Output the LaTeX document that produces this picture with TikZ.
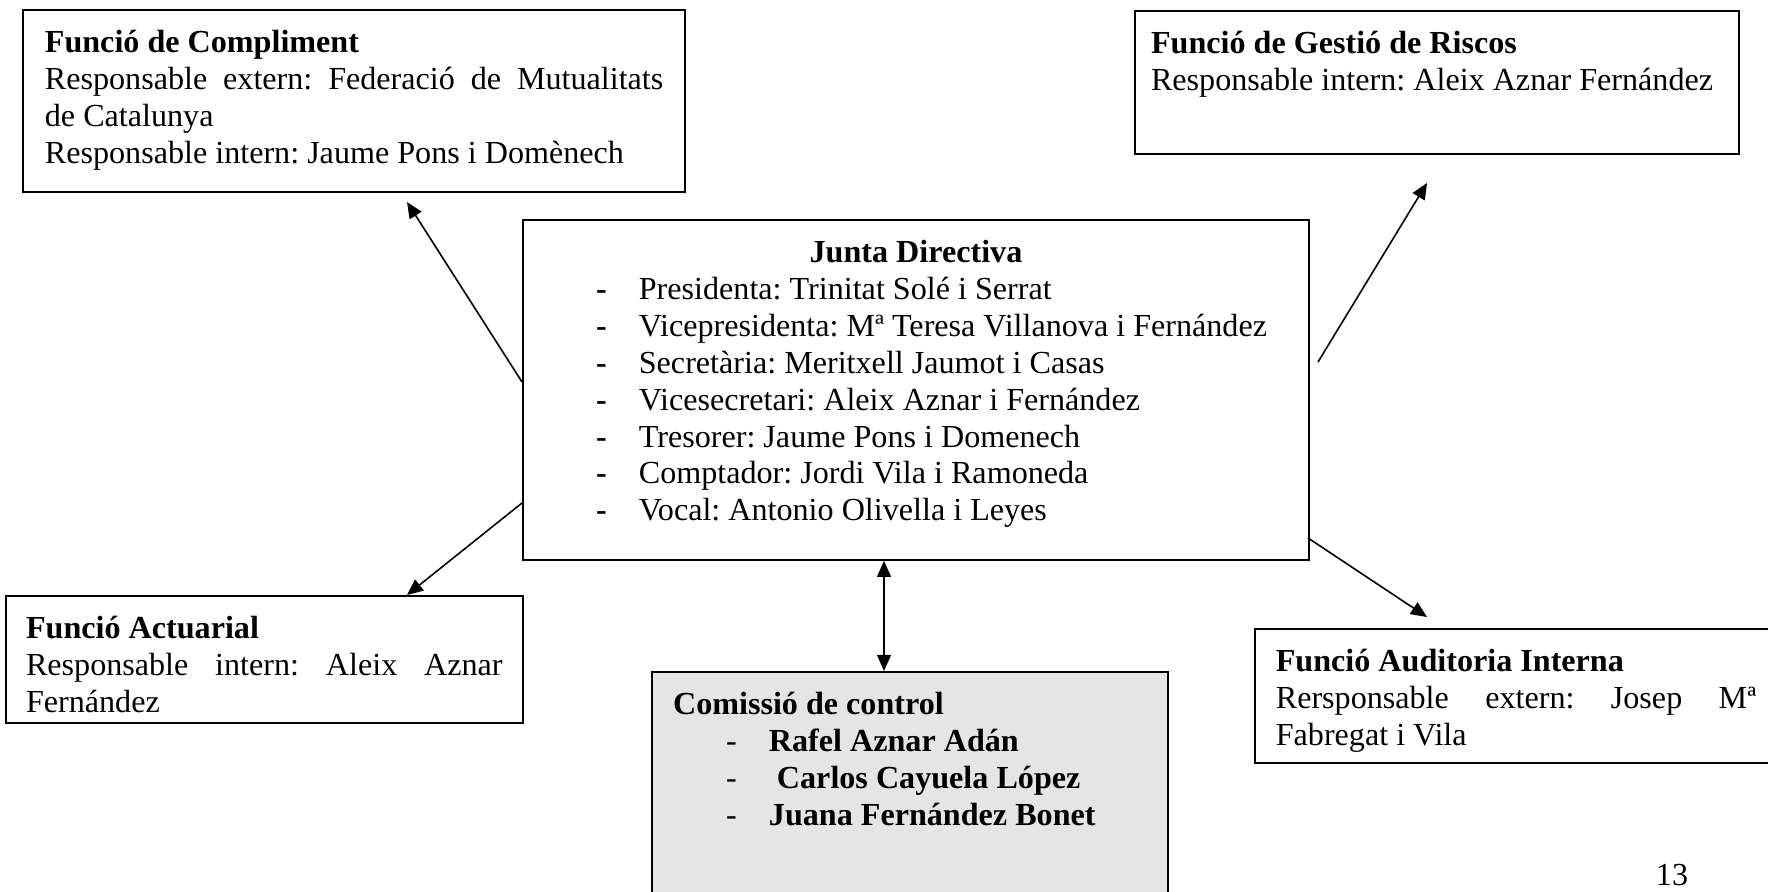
\documentclass[tikz,border=0pt]{standalone}
\usepackage{fontspec}
\setmainfont{Liberation Serif}
\usetikzlibrary{arrows.meta}
\frenchspacing

\newcommand{\boxtext}[3]{\parbox[t][#2][t]{#1}{\vspace*{7.5pt}#3}}
\newcommand{\listline}[2]{\hspace*{19.8pt}\makebox[16pt][l]{#1}#2\par}
\newcommand{\spreadline}[1]{\makebox[\linewidth][s]{#1}\\}

\tikzset{
  orgbox/.style={draw, line width=0.7pt, anchor=north west, inner xsep=7.5pt, inner ysep=0pt, font=\fontsize{12}{13.8}\selectfont},
  arr/.style={-{Triangle[length=6pt,width=5.2pt]}, line width=0.6pt},
  dblarr/.style={{Triangle[length=6pt,width=5.2pt]}-{Triangle[length=6pt,width=5.2pt]}, line width=0.6pt}
}

\begin{document}
\begin{tikzpicture}[x=0.3735pt, y=0.3735pt]
  \useasboundingbox (0,0) rectangle (1768,892);
  \clip (0,0) rectangle (1768,892);

  % boxes
  \node[orgbox, inner xsep=8.2pt] (cmp) at (22,883) {\boxtext{231pt}{68pt}{%
    \textbf{Funció de Compliment}\\
    \spreadline{Responsable extern: Federació de Mutualitats}
    de Catalunya\\
    Responsable intern: Jaume Pons i Domènech}};
  \node[orgbox, inner xsep=6pt] (rsk) at (1134,882) {\boxtext{213.5pt}{53.4pt}{%
    \textbf{Funció de Gestió de Riscos}\\
    Responsable intern: Aleix Aznar Fernández}};
  \node[orgbox] (jd) at (522,673) {\boxtext{278.6pt}{127pt}{%
    \centerline{\textbf{Junta Directiva}}
    \listline{\textbf{-}}{Presidenta: Trinitat Solé i Serrat}
    \listline{\textbf{-}}{Vicepresidenta: Mª Teresa Villanova i Fernández}
    \listline{\textbf{-}}{Secretària: Meritxell Jaumot i Casas}
    \listline{\textbf{-}}{Vicesecretari: Aleix Aznar i Fernández}
    \listline{\textbf{-}}{Tresorer: Jaume Pons i Domenech}
    \listline{\textbf{-}}{Comptador: Jordi Vila i Ramoneda}
    \listline{\textbf{-}}{Vocal: Antonio Olivella i Leyes}}};
  \node[orgbox] (act) at (5,297) {\boxtext{178pt}{47.4pt}{%
    \textbf{Funció Actuarial}\\
    \spreadline{Responsable intern: Aleix Aznar}
    Fernández}};
  \node[orgbox, inner xsep=7.9pt, fill=black!10] (com) at (651,221) {\boxtext{176.8pt}{95pt}{%
    \textbf{Comissió de control}\par
    \listline{-}{\textbf{Rafel Aznar Adán}}
    \listline{-}{\textbf{\ Carlos Cayuela López}}
    \listline{-}{\textbf{Juana Fernández Bonet}}}};
  \node[orgbox, inner xsep=7.8pt] (aud) at (1254,264) {\boxtext{179.4pt}{50pt}{%
    \textbf{Funció Auditoria Interna}\\
    \spreadline{Rersponsable extern: Josep Mª}
    Fabregat i Vila}};
  \node[anchor=base, font=\fontsize{12}{13.8}\selectfont] (pgnum) at (1672,6) {13};

  % arrow ends
  \coordinate (cmpfrom) at (522,510);
  \coordinate (cmptip) at (407,690);
  \coordinate (actfrom) at (522,389);
  \coordinate (acttip) at (407,297);
  \coordinate (rskfrom) at (1318,530);
  \coordinate (rsktip) at (1427,709);
  \coordinate (audfrom) at (1308,354);
  \coordinate (audtip) at (1427,275);

  \begin{scope}[arr]
    \draw (cmpfrom) -- (cmptip);
    \draw (actfrom) -- (acttip);
    \draw (rskfrom) -- (rsktip);
    \draw (audfrom) -- (audtip);
  \end{scope}
  \draw[dblarr] (jd.south -| 884,0) -- (com.north -| 884,0);
\end{tikzpicture}
\end{document}
